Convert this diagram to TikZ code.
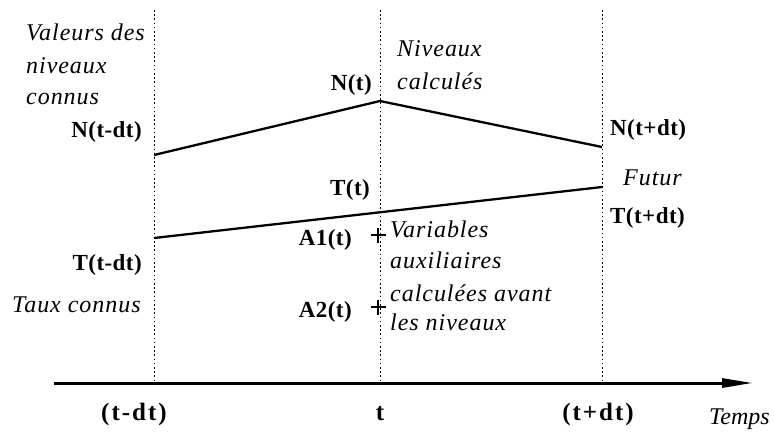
\documentclass[tikz,border=0pt]{standalone}
\usepackage{fontspec}
\setmainfont{Liberation Serif}
\usetikzlibrary{arrows.meta}
\newfontfamily\labfont[LetterSpace=2]{Liberation Serif}
\newfontfamily\axfont[LetterSpace=8]{Liberation Serif}
\newfontfamily\itfont[LetterSpace=4]{Liberation Serif}
\tikzset{
  bl/.style={inner sep=0pt, font=\labfont\bfseries\fontsize{23}{26}\selectfont},
  axl/.style={inner sep=0pt, font=\axfont\bfseries\fontsize{25}{28}\selectfont},
  it/.style={inner sep=0pt, anchor=base west, font=\itfont\itshape\fontsize{24}{28}\selectfont},
  guide/.style={line width=0.8pt, dash pattern=on 1.6pt off 2.6pt},
  curve/.style={line width=2.3pt},
  axisline/.style={line width=3pt, -{Triangle[length=31pt,width=9pt]}},
  plusmark/.style={line width=2.4pt}
}
\begin{document}
\begin{tikzpicture}[x=1pt,y=-1pt]
\useasboundingbox (0,0) rectangle (774,432);
% guides
\coordinate (g1t) at (154,10); \coordinate (g1b) at (154,383);
\coordinate (g2t) at (380,10); \coordinate (g2b) at (380,383);
\coordinate (g3t) at (602,10); \coordinate (g3b) at (602,383);
\draw[guide] (g1t) -- (g1b);
\draw[guide] (g2t) -- (g2b);
\draw[guide] (g3t) -- (g3b);
% axis
\coordinate (a0) at (54,383); \coordinate (a1) at (753,383);
\draw[axisline] (a0) -- (a1);
% level curve N
\coordinate (n0) at (154,155); \coordinate (n1) at (380,101); \coordinate (n2) at (602,147);
\draw[curve] (n0) -- (n1) -- (n2);
% rate curve T
\coordinate (t0) at (154,238); \coordinate (t2) at (602,187);
\draw[curve] (t0) -- (t2);
% plus marks
\coordinate (p1) at (378,235); \coordinate (p2) at (378,307);
\draw[plusmark] ([xshift=-7.5pt]p1) -- ([xshift=7.5pt]p1) ([yshift=-7.5pt]p1) -- ([yshift=7.5pt]p1);
\draw[plusmark] ([xshift=-7.5pt]p2) -- ([xshift=7.5pt]p2) ([yshift=-7.5pt]p2) -- ([yshift=7.5pt]p2);
% italic texts
\node[it] (valeurs1) at (26,40) {Valeurs des};
\node[it] (valeurs2) at (26,73) {niveaux};
\node[it] (valeurs3) at (26,104) {connus};
\node[it] (niveaux1) at (397,56) {Niveaux};
\node[it] (niveaux2) at (397,89) {calculés};
\node[it] (futur) at (623,185) {Futur};
\node[it] (taux) at (12,312) {Taux connus};
\node[it] (var1) at (390,237) {Variables};
\node[it] (var2) at (390,268) {auxiliaires};
\node[it] (var3) at (390,301) {calculées avant};
\node[it] (var4) at (390,330) {les niveaux};
\node[it, font=\itshape\fontsize{24}{28}\selectfont] (temps) at (709,424) {Temps};
% bold labels
\node[bl, anchor=east] (ntdt) at (142,132) {N(t-dt)};
\node[bl, anchor=east] (nt) at (372,85) {N(t)};
\node[bl, anchor=west] (ntpdt) at (610,130) {N(t+dt)};
\node[bl, anchor=west] (ttpdt) at (610,218) {T(t+dt)};
\node[bl, anchor=east] (tt) at (370,190) {T(t)};
\node[bl, anchor=east] (ttdt) at (142,265) {T(t-dt)};
\node[bl, anchor=east] (a1t) at (352,240) {A1(t)};
\node[bl, anchor=east] (a2t) at (352,312) {A2(t)};
\node[axl] (lab1) at (134,414) {(t-dt)};
\node[axl] (lab2) at (380,414) {t};
\node[axl] (lab3) at (598,414) {(t+dt)};
\end{tikzpicture}
\end{document}
